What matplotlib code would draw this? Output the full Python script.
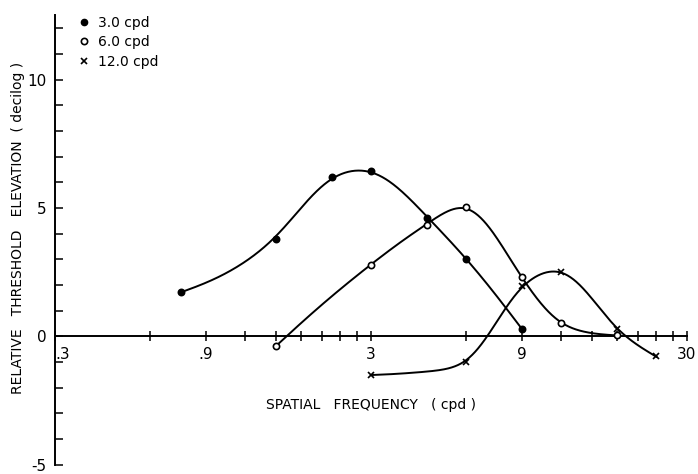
import numpy as np
import matplotlib
matplotlib.use("Agg")
import matplotlib.pyplot as plt
from matplotlib.lines import Line2D

# Adapting frequency series: test spatial frequency (cpd) vs. threshold elevation (decilog)
freq_3 = [0.75, 1.5, 2.25, 3.0, 4.5, 6.0, 9.0]
elev_3 = [1.74, 3.80, 6.20, 6.43, 4.61, 3.02, 0.27]

freq_6 = [1.5, 3.0, 4.5, 6.0, 9.0, 12.0, 18.0]
elev_6 = [-0.39, 2.79, 4.34, 5.04, 2.29, 0.50, 0.04]

freq_12 = [3.0, 6.0, 9.0, 12.0, 18.0, 24.0]
elev_12 = [-1.51, -1.01, 1.94, 2.52, 0.27, -0.78]

series_labels = ["3.0 cpd", "6.0 cpd", "12.0 cpd"]
xtick_vals = [0.3, 0.9, 3, 9, 30]
xtick_text = [".3", ".9", "3", "9", "30"]
ytick_vals = [-5, 0, 5, 10]
ytick_text = ["-5", "0", "5", "10"]


def pchip(x, y, xq):
    """Shape-preserving piecewise cubic Hermite interpolation."""
    x = np.asarray(x, float)
    y = np.asarray(y, float)
    h = np.diff(x)
    delta = np.diff(y) / h
    n = len(x)
    d = np.zeros(n)
    for k in range(1, n - 1):
        if delta[k - 1] * delta[k] > 0:
            w1 = 2 * h[k] + h[k - 1]
            w2 = h[k] + 2 * h[k - 1]
            d[k] = (w1 + w2) / (w1 / delta[k - 1] + w2 / delta[k])

    def end_slope(h0, h1, m0, m1):
        s = ((2 * h0 + h1) * m0 - h0 * m1) / (h0 + h1)
        if np.sign(s) != np.sign(m0):
            s = 0.0
        elif np.sign(m0) != np.sign(m1) and abs(s) > abs(3 * m0):
            s = 3 * m0
        return s

    d[0] = end_slope(h[0], h[1], delta[0], delta[1])
    d[-1] = end_slope(h[-1], h[-2], delta[-1], delta[-2])

    idx = np.clip(np.searchsorted(x, xq) - 1, 0, n - 2)
    t = (xq - x[idx]) / h[idx]
    h00 = 2 * t**3 - 3 * t**2 + 1
    h10 = t**3 - 2 * t**2 + t
    h01 = -2 * t**3 + 3 * t**2
    h11 = t**3 - t**2
    return (h00 * y[idx] + h10 * h[idx] * d[idx]
            + h01 * y[idx + 1] + h11 * h[idx] * d[idx + 1])


def smooth_curve(fx, fy, width, pin, n=500):
    """PCHIP in log-frequency, smoothed with a Whittaker penalty while the
    measured points are held with extra weight."""
    lx = np.log10(np.asarray(fx, float))
    y = np.asarray(fy, float)
    q = np.linspace(lx[0], lx[-1], n)
    f = pchip(lx, y, q)
    dq = q[1] - q[0]
    lam = (width / dq) ** 4
    w = np.ones(n)
    rhs = f.copy()
    for v, yv in zip(lx, y):
        j = int(round((v - q[0]) / dq))
        w[j] += pin
        rhs[j] += pin * yv
    D = np.eye(n)[:-2] - 2 * np.eye(n, k=1)[:-2] + np.eye(n, k=2)[:-2]
    g = np.linalg.solve(np.diag(w) + lam * D.T @ D, rhs)
    return 10 ** q, g


fig = plt.figure(figsize=(6.98, 4.74), dpi=100)
ax = fig.add_axes([0.0788, 0.020, 0.9054, 0.9485])

lw = 1.4
for fx, fy, width, pin, mk, mfc, ms in [
    (freq_3, elev_3, 0.06, 40, "o", "black", 4.5),
    (freq_6, elev_6, 0.045, 60, "o", "white", 4.5),
    (freq_12, elev_12, 0.045, 60, "x", "black", 5.0),
]:
    cx, cy = smooth_curve(fx, fy, width, pin)
    ax.plot(cx, cy, color="black", lw=lw, zorder=2)
    ax.plot(fx, fy, linestyle="none", marker=mk, ms=ms, mfc=mfc,
            mec="black", mew=1.2, zorder=3)

ax.set_xscale("log")
ax.set_xlim(0.3, 30)
ax.set_ylim(-5, 12.52)

# Spines: left axis plus a horizontal axis through zero
for s in ("top", "right"):
    ax.spines[s].set_visible(False)
ax.spines["bottom"].set_position(("data", 0))
ax.spines["left"].set_linewidth(1.4)
ax.spines["bottom"].set_linewidth(1.4)

# x ticks every 0.3 below 3 and every 3 above
minor_x = [0.3 * k for k in range(1, 11)] + [3 * k for k in range(2, 11)]
ax.set_xticks(minor_x, minor=True)
ax.set_xticks(xtick_vals)
ax.set_xticklabels(xtick_text)
ax.xaxis.set_minor_formatter(matplotlib.ticker.NullFormatter())
ax.tick_params(axis="x", which="both", direction="inout", length=7,
               width=1.1, labelsize=11, pad=4)

ax.set_yticks(np.arange(-5, 13, 1), minor=True)
ax.set_yticks(ytick_vals)
ax.set_yticklabels(ytick_text)
ax.tick_params(axis="y", which="both", direction="in", length=6,
               width=1.1, labelsize=11, pad=6)

for lab in ax.get_xticklabels():
    if lab.get_text() == ".3":
        lab.set_horizontalalignment("left")

fig.text(0.026, 0.52, "RELATIVE   THRESHOLD   ELEVATION  ( decilog )",
         rotation=90, ha="center", va="center", fontsize=10)
fig.text(0.531, 0.146, "SPATIAL   FREQUENCY   ( cpd )",
         ha="center", va="center", fontsize=10)

handles = [
    Line2D([], [], linestyle="none", marker="o", ms=4.5, mfc="black", mec="black"),
    Line2D([], [], linestyle="none", marker="o", ms=4.5, mfc="white", mec="black", mew=1.2),
    Line2D([], [], linestyle="none", marker="x", ms=4.5, mec="black", mew=1.2),
]
fig.legend(handles, series_labels, loc="upper left",
           bbox_to_anchor=(0.104, 0.978), frameon=False, fontsize=10,
           handlelength=0.8, handletextpad=0.6, labelspacing=0.38,
           borderaxespad=0)

fig.savefig("out.png", dpi=100)
